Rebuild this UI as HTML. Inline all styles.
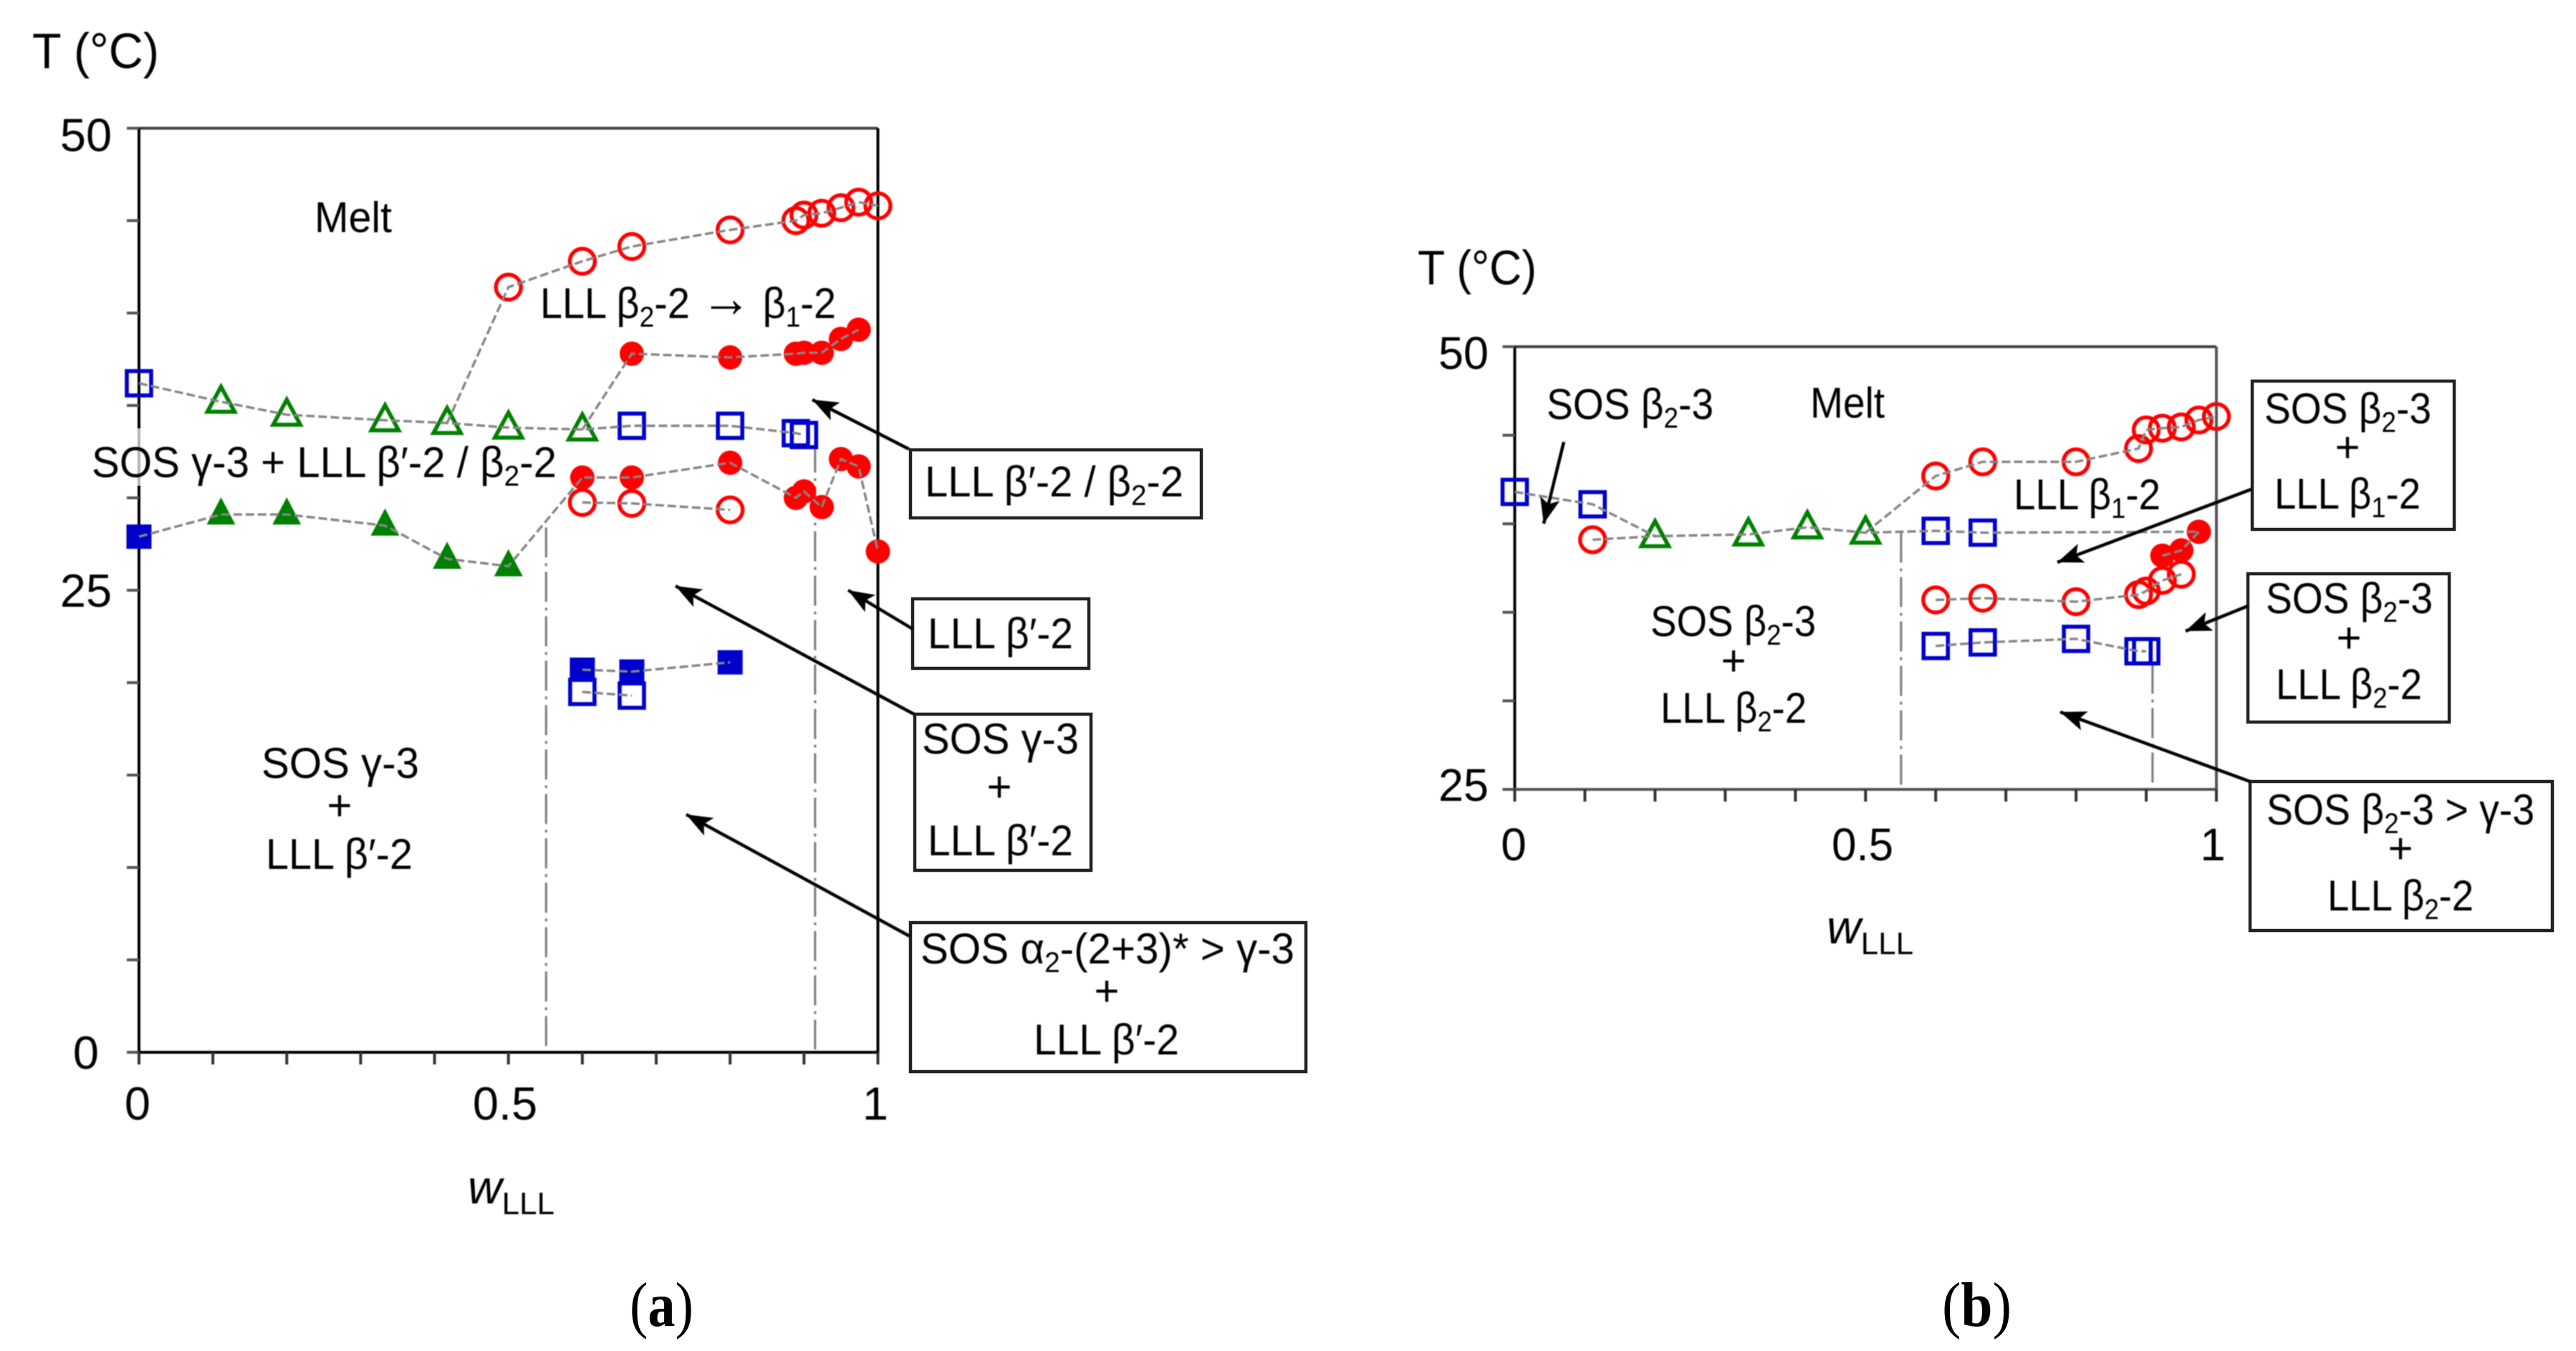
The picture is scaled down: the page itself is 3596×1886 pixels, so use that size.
<!DOCTYPE html>
<html lang="en">
<head>
<meta charset="utf-8">
<title>Phase diagrams of SOS/LLL mixtures</title>
<style>
  html, body { margin: 0; padding: 0; background: #fff; }
  body { width: 3596px; height: 1886px; overflow: hidden; }
  svg { position: absolute; left: 0; top: 0; display: block; }
  text { font-family: "Liberation Sans", "DejaVu Sans", sans-serif; fill: #000; }
  .serif { font-family: "Liberation Serif", serif; }
  svg > text:not(.serif), svg > line, svg > g { filter: blur(0.7px); }
</style>
</head>
<body>
<svg id="figure" xmlns="http://www.w3.org/2000/svg" width="3596" height="1886" viewBox="0 0 3596 1886">
  <rect width="3596" height="1886" fill="#fff"/>
  <defs>
    <marker id="arrowhead" markerUnits="userSpaceOnUse" markerWidth="44" markerHeight="36" refX="36" refY="14" orient="auto">
      <path d="M0 0 L36 14 L0 28 L8 14 Z" fill="#000"/>
    </marker>
  </defs>
  <g id="panel-a"></g>
  <g id="panel-b"></g>

  <!-- fade of the left axis behind the label, as in the source -->
  <rect x="186" y="598" width="18" height="80" fill="#fff" fill-opacity="0.7"/>

  <!-- Panel (a) text -->
  <text x="45" y="95" font-size="70" textLength="177" lengthAdjust="spacingAndGlyphs">T (°C)</text>
  <text x="120" y="211" font-size="65" text-anchor="middle">50</text>
  <text x="120" y="847" font-size="65" text-anchor="middle">25</text>
  <text x="120" y="1492" font-size="65" text-anchor="middle">0</text>
  <text x="192" y="1563" font-size="65" text-anchor="middle">0</text>
  <text x="705" y="1563" font-size="65" text-anchor="middle">0.5</text>
  <text x="1222" y="1563" font-size="65" text-anchor="middle">1</text>
  <text x="653" y="1680" font-size="66" font-style="italic">w<tspan font-size="44" font-style="normal" dy="15">LLL</tspan></text>
  <text class="serif" x="879" y="1851" font-size="88" textLength="89" lengthAdjust="spacingAndGlyphs">(<tspan font-weight="bold">a</tspan>)</text>

  <text x="439" y="324" font-size="60" textLength="108" lengthAdjust="spacingAndGlyphs">Melt</text>
  <text x="754" y="444" font-size="60" textLength="413" lengthAdjust="spacingAndGlyphs">LLL β<tspan font-size="40" dy="12">2</tspan><tspan dy="-12">-2 </tspan><tspan font-size="76" dy="-2">→</tspan><tspan dy="2"> β</tspan><tspan font-size="40" dy="12">1</tspan><tspan dy="-12">-2</tspan></text>
  <text x="128" y="666" font-size="60" textLength="649" lengthAdjust="spacingAndGlyphs">SOS γ-3 + LLL β′-2 / β<tspan font-size="40" dy="12">2</tspan><tspan dy="-12">-2</tspan></text>
  <text x="365" y="1086" font-size="60" textLength="220" lengthAdjust="spacingAndGlyphs">SOS γ-3</text>
  <text x="474" y="1145" font-size="60" text-anchor="middle">+</text>
  <text x="371" y="1213" font-size="60" textLength="205" lengthAdjust="spacingAndGlyphs">LLL β′-2</text>

  <!-- Panel (a) callouts -->
  <rect x="1271" y="628" width="406" height="95" fill="#fff" stroke="#222" stroke-width="4.5"/>
  <text x="1291" y="693" font-size="60" textLength="361" lengthAdjust="spacingAndGlyphs">LLL β′-2 / β<tspan font-size="40" dy="12">2</tspan><tspan dy="-12">-2</tspan></text>

  <rect x="1274" y="836" width="246" height="97" fill="#fff" stroke="#222" stroke-width="4.5"/>
  <text x="1295" y="905" font-size="60" textLength="203" lengthAdjust="spacingAndGlyphs">LLL β′-2</text>

  <rect x="1277" y="997" width="246" height="218" fill="#fff" stroke="#222" stroke-width="4.5"/>
  <text x="1287" y="1052" font-size="60" textLength="219" lengthAdjust="spacingAndGlyphs">SOS γ-3</text>
  <text x="1395" y="1119" font-size="60" text-anchor="middle">+</text>
  <text x="1295" y="1194" font-size="60" textLength="203" lengthAdjust="spacingAndGlyphs">LLL β′-2</text>

  <rect x="1271" y="1288" width="552" height="208" fill="#fff" stroke="#222" stroke-width="4.5"/>
  <text x="1285" y="1345" font-size="60" textLength="522" lengthAdjust="spacingAndGlyphs">SOS α<tspan font-size="40" dy="12">2</tspan><tspan dy="-12">-(2+3)* &gt; γ-3</tspan></text>
  <text x="1545" y="1404" font-size="60" text-anchor="middle">+</text>
  <text x="1443" y="1472" font-size="60" textLength="203" lengthAdjust="spacingAndGlyphs">LLL β′-2</text>

  <line x1="1269" y1="627" x2="1134" y2="558" stroke="#000" stroke-width="4.5" marker-end="url(#arrowhead)"/>
  <line x1="1274" y1="878" x2="1184" y2="824" stroke="#000" stroke-width="4.5" marker-end="url(#arrowhead)"/>
  <line x1="1276" y1="997" x2="943" y2="818" stroke="#000" stroke-width="4.5" marker-end="url(#arrowhead)"/>
  <line x1="1270" y1="1307" x2="958" y2="1137" stroke="#000" stroke-width="4.5" marker-end="url(#arrowhead)"/>

  <!-- Panel (b) text -->
  <text x="1979" y="397" font-size="68" textLength="166" lengthAdjust="spacingAndGlyphs">T (°C)</text>
  <text x="2043" y="515" font-size="64" text-anchor="middle" textLength="70" lengthAdjust="spacingAndGlyphs">50</text>
  <text x="2043" y="1118" font-size="64" text-anchor="middle" textLength="70" lengthAdjust="spacingAndGlyphs">25</text>
  <text x="2113" y="1201" font-size="64" text-anchor="middle">0</text>
  <text x="2600" y="1201" font-size="64" text-anchor="middle" textLength="86" lengthAdjust="spacingAndGlyphs">0.5</text>
  <text x="3089" y="1201" font-size="64" text-anchor="middle">1</text>
  <text x="2550" y="1317" font-size="66" font-style="italic">w<tspan font-size="44" font-style="normal" dy="15">LLL</tspan></text>
  <text class="serif" x="2711" y="1851" font-size="88" textLength="97" lengthAdjust="spacingAndGlyphs">(<tspan font-weight="bold">b</tspan>)</text>

  <text x="2159" y="585" font-size="60" textLength="233" lengthAdjust="spacingAndGlyphs">SOS β<tspan font-size="40" dy="12">2</tspan><tspan dy="-12">-3</tspan></text>
  <text x="2527" y="583" font-size="60" textLength="104" lengthAdjust="spacingAndGlyphs">Melt</text>
  <text x="2304" y="888" font-size="60" textLength="231" lengthAdjust="spacingAndGlyphs">SOS β<tspan font-size="40" dy="12">2</tspan><tspan dy="-12">-3</tspan></text>
  <text x="2420" y="943" font-size="60" text-anchor="middle">+</text>
  <text x="2318" y="1009" font-size="60" textLength="204" lengthAdjust="spacingAndGlyphs">LLL β<tspan font-size="40" dy="12">2</tspan><tspan dy="-12">-2</tspan></text>
  <text x="2811" y="711" font-size="60" textLength="205" lengthAdjust="spacingAndGlyphs">LLL β<tspan font-size="40" dy="12">1</tspan><tspan dy="-12">-2</tspan></text>

  <!-- Panel (b) callouts -->
  <rect x="3144" y="532" width="282" height="207" fill="#fff" stroke="#222" stroke-width="4.5"/>
  <text x="3161" y="591" font-size="60" textLength="233" lengthAdjust="spacingAndGlyphs">SOS β<tspan font-size="40" dy="12">2</tspan><tspan dy="-12">-3</tspan></text>
  <text x="3277" y="645" font-size="60" text-anchor="middle">+</text>
  <text x="3175" y="710" font-size="60" textLength="204" lengthAdjust="spacingAndGlyphs">LLL β<tspan font-size="40" dy="12">1</tspan><tspan dy="-12">-2</tspan></text>

  <rect x="3138" y="801" width="281" height="207" fill="#fff" stroke="#222" stroke-width="4.5"/>
  <text x="3163" y="856" font-size="60" textLength="233" lengthAdjust="spacingAndGlyphs">SOS β<tspan font-size="40" dy="12">2</tspan><tspan dy="-12">-3</tspan></text>
  <text x="3279" y="911" font-size="60" text-anchor="middle">+</text>
  <text x="3177" y="976" font-size="60" textLength="204" lengthAdjust="spacingAndGlyphs">LLL β<tspan font-size="40" dy="12">2</tspan><tspan dy="-12">-2</tspan></text>

  <rect x="3141" y="1091" width="422" height="208" fill="#fff" stroke="#222" stroke-width="4.5"/>
  <text x="3164" y="1151" font-size="60" textLength="374" lengthAdjust="spacingAndGlyphs">SOS β<tspan font-size="40" dy="12">2</tspan><tspan dy="-12">-3 &gt; γ-3</tspan></text>
  <text x="3351" y="1205" font-size="60" text-anchor="middle">+</text>
  <text x="3249" y="1271" font-size="60" textLength="204" lengthAdjust="spacingAndGlyphs">LLL β<tspan font-size="40" dy="12">2</tspan><tspan dy="-12">-2</tspan></text>

  <line x1="2183" y1="617" x2="2155" y2="731" stroke="#000" stroke-width="4.5" marker-end="url(#arrowhead)"/>
  <line x1="3143" y1="683" x2="2872" y2="785" stroke="#000" stroke-width="4.5" marker-end="url(#arrowhead)"/>
  <line x1="3138" y1="846" x2="3051" y2="881" stroke="#000" stroke-width="4.5" marker-end="url(#arrowhead)"/>
  <line x1="3141" y1="1091" x2="2876" y2="994" stroke="#000" stroke-width="4.5" marker-end="url(#arrowhead)"/>
</svg>

<script>
// ---- Panel (a) data: weight fraction w and temperature T (°C) ----
const aTopSquareW = [0];
const aTopSquareT = [36.2];
const aGreenOpenW = [0.111, 0.2, 0.333, 0.417, 0.5, 0.6];
const aGreenOpenT = [35.2, 34.5, 34.2, 34.05, 33.8, 33.7];
const aMidSquareW = [0.667, 0.8, 0.889, 0.9];
const aMidSquareT = [33.9, 33.9, 33.5, 33.4];
const aMeltCircleW = [0.5, 0.6, 0.667, 0.8, 0.889, 0.9, 0.924, 0.95, 0.974, 1];
const aMeltCircleT = [41.4, 42.8, 43.6, 44.5, 45.0, 45.3, 45.4, 45.7, 46.0, 45.8];
const aUpperDiscW = [0.667, 0.8, 0.889, 0.9, 0.924, 0.95, 0.974];
const aUpperDiscT = [37.8, 37.6, 37.8, 37.85, 37.85, 38.6, 39.1];
const aLowBlockW = [0];
const aLowBlockT = [27.9];
const aGreenFilledW = [0.111, 0.2, 0.333, 0.417, 0.5];
const aGreenFilledT = [29.1, 29.1, 28.5, 26.7, 26.3];
const aLowerDiscW = [0.6, 0.667, 0.8, 0.889, 0.9, 0.924, 0.95, 0.974, 1];
const aLowerDiscT = [31.1, 31.1, 31.9, 30.0, 30.35, 29.5, 32.1, 31.7, 27.1];
const aLowerCircleW = [0.6, 0.667, 0.8];
const aLowerCircleT = [29.75, 29.7, 29.35];
const aBlueFilledW = [0.6, 0.667, 0.8];
const aBlueFilledT = [20.7, 20.6, 21.1];
const aBlueOpenW = [0.6, 0.667];
const aBlueOpenT = [19.5, 19.3];
const aBoundaryW = [0.551, 0.915];
const aBoundaryT = [28.4, 33.0];

// ---- Panel (b) data ----
const bTopSquareW = [0, 0.111];
const bTopSquareT = [41.8, 41.1];
const bFirstCircleW = [0.111];
const bFirstCircleT = [39.1];
const bGreenOpenW = [0.2, 0.333, 0.417, 0.5];
const bGreenOpenT = [39.3, 39.4, 39.8, 39.5];
const bMidSquareW = [0.6, 0.667];
const bMidSquareT = [39.6, 39.5];
const bMeltCircleW = [0.6, 0.667, 0.8, 0.889, 0.9, 0.923, 0.95, 0.975, 1];
const bMeltCircleT = [42.7, 43.5, 43.5, 44.25, 45.3, 45.4, 45.47, 45.86, 46.06];
const bDiscW = [0.923, 0.95, 0.975];
const bDiscT = [38.2, 38.5, 39.55];
const bLowerCircleW = [0.6, 0.667, 0.8, 0.889, 0.9, 0.923, 0.95];
const bLowerCircleT = [35.7, 35.8, 35.6, 36.0, 36.2, 36.8, 37.15];
const bLowerSquareW = [0.6, 0.667, 0.8, 0.889, 0.9];
const bLowerSquareT = [33.1, 33.3, 33.5, 32.8, 32.8];
const bBoundaryW = [0.5506, 0.909];
const bBoundaryT = [39.5, 32.1];

// ---- Ticks ----
const aYTicks = [0, 5, 10, 15, 20, 25, 30, 35, 40, 45, 50];
const bYTicks = [25, 30, 35, 40, 45, 50];
const xTicks = [0, 0.1, 0.2, 0.3, 0.4, 0.5, 0.6, 0.7, 0.8, 0.9, 1];

const NS = 'http://www.w3.org/2000/svg';
const RED = '#ff0000', BLUE = '#0000cc', GREEN = '#008000', DASH = '#858585';

function axes(left, right, top, bottom, tMin, tMax) {
  return {
    left, right, top, bottom, tMin,
    x: w => left + (right - left) * w,
    y: t => bottom - (bottom - top) * (t - tMin) / (tMax - tMin)
  };
}
const axisA = axes(194, 1225.5, 179, 1469, 0, 50);
const axisB = axes(2114.5, 3094, 484, 1102, 25, 50);

function node(tag, parent, props) {
  const el = document.createElementNS(NS, tag);
  for (const k in props) el.setAttribute(k, props[k]);
  parent.appendChild(el);
  return el;
}

function drawFrame(parent, ax, yTicks, prefix) {
  const sides = [
    ['top', ax.left - 17, ax.top, ax.right, ax.top, '#444'],
    ['left', ax.left, ax.top, ax.left, ax.bottom + 17, '#000'],
    ['right', ax.right, ax.top, ax.right, ax.bottom + 17, prefix === 'a' ? '#000' : '#555'],
    ['bottom', ax.left - 17, ax.bottom, ax.right, ax.bottom, prefix === 'a' ? '#000' : '#555']
  ];
  sides.forEach(s => {
    const el = node('line', parent, { x1: s[1], y1: s[2], x2: s[3], y2: s[4], stroke: s[5], 'stroke-width': 4 });
    
    
  });
  yTicks.forEach(t => {
    const el = node('line', parent, { x1: ax.left - 17, y1: ax.y(t), x2: ax.left, y2: ax.y(t), stroke: '#555', 'stroke-width': 4 });
    
    
  });
  xTicks.forEach(w => {
    const el = node('line', parent, { x1: ax.x(w), y1: ax.bottom, x2: ax.x(w), y2: ax.bottom + 17, stroke: '#333', 'stroke-width': 4 });
    
    
  });
}

function drawBoundaries(parent, ax, ws, ts, prefix) {
  ws.forEach((w, i) => {
    const el = node('line', parent, {
      x1: ax.x(w), y1: ax.y(ts[i]), x2: ax.x(w), y2: ax.bottom - 4,
      stroke: '#808080', 'stroke-width': 3.2, 'stroke-dasharray': '42 8 4 8'
    });
    
    
  });
}

function drawMarkers(parent, ax, ws, ts, shape, color, name) {
  ws.forEach((w, i) => {
    const cx = ax.x(w), cy = ax.y(ts[i]);
    let el;
    if (shape === 'circle') {
      el = node('circle', parent, { cx, cy, r: 17.5, fill: 'none', stroke: color, 'stroke-width': 5.4 });
    } else if (shape === 'disc') {
      el = node('circle', parent, { cx, cy, r: 17, fill: color });
    } else if (shape === 'square') {
      el = node('rect', parent, { x: cx - 17, y: cy - 17, width: 34, height: 34, fill: 'none', stroke: color, 'stroke-width': 5.6 });
    } else if (shape === 'block') {
      el = node('rect', parent, { x: cx - 17.5, y: cy - 17, width: 35, height: 34, fill: color });
    } else if (shape === 'triangle') {
      el = node('polygon', parent, { points: `${cx},${cy - 21} ${cx + 19},${cy + 14} ${cx - 19},${cy + 14}`, fill: 'none', stroke: color, 'stroke-width': 5.6 });
    } else {
      el = node('polygon', parent, { points: `${cx},${cy - 24} ${cx + 20},${cy + 14} ${cx - 20},${cy + 14}`, fill: color });
    }
    
    
  });
}

function drawLine(parent, ax, ws, ts, name) {
  const pts = ws.map((w, i) => ax.x(w) + ',' + ax.y(ts[i])).join(' ');
  const el = node('polyline', parent, { points: pts, fill: 'none', stroke: DASH, 'stroke-width': 3.4, 'stroke-dasharray': '12 5' });
  
  
}

// ---- Panel (a) ----
const panelA = document.getElementById('panel-a');
drawFrame(panelA, axisA, aYTicks, 'a');
drawBoundaries(panelA, axisA, aBoundaryW, aBoundaryT, 'a');
drawMarkers(panelA, axisA, aMeltCircleW, aMeltCircleT, 'circle', RED, 'a-melting-circle');
drawMarkers(panelA, axisA, aLowerCircleW, aLowerCircleT, 'circle', RED, 'a-lower-circle');
drawMarkers(panelA, axisA, aUpperDiscW, aUpperDiscT, 'disc', RED, 'a-upper-filled-circle');
drawMarkers(panelA, axisA, aLowerDiscW, aLowerDiscT, 'disc', RED, 'a-lower-filled-circle');
drawMarkers(panelA, axisA, aTopSquareW, aTopSquareT, 'square', BLUE, 'a-top-open-square');
drawMarkers(panelA, axisA, aMidSquareW, aMidSquareT, 'square', BLUE, 'a-middle-open-square');
drawMarkers(panelA, axisA, aBlueFilledW, aBlueFilledT, 'block', BLUE, 'a-low-filled-square');
drawMarkers(panelA, axisA, aBlueOpenW, aBlueOpenT, 'square', BLUE, 'a-low-open-square');
drawMarkers(panelA, axisA, aLowBlockW, aLowBlockT, 'block', BLUE, 'a-axis-filled-square');
drawMarkers(panelA, axisA, aGreenOpenW, aGreenOpenT, 'triangle', GREEN, 'a-open-triangle');
drawMarkers(panelA, axisA, aGreenFilledW, aGreenFilledT, 'wedge', GREEN, 'a-filled-triangle');

drawLine(panelA, axisA, aTopSquareW.concat(aGreenOpenW, aMidSquareW), aTopSquareT.concat(aGreenOpenT, aMidSquareT), 'a-upper-trace');
drawLine(panelA, axisA, [aGreenOpenW[3]].concat(aMeltCircleW), [aGreenOpenT[3]].concat(aMeltCircleT), 'a-melting-trace');
drawLine(panelA, axisA, [aGreenOpenW[5]].concat(aUpperDiscW), [aGreenOpenT[5]].concat(aUpperDiscT), 'a-upper-filled-trace');
drawLine(panelA, axisA, aLowBlockW.concat(aGreenFilledW, aLowerDiscW), aLowBlockT.concat(aGreenFilledT, aLowerDiscT), 'a-lower-trace');
drawLine(panelA, axisA, aLowerCircleW, aLowerCircleT, 'a-lower-circle-trace');
drawLine(panelA, axisA, aBlueFilledW, aBlueFilledT, 'a-low-filled-trace');
drawLine(panelA, axisA, aBlueOpenW, aBlueOpenT, 'a-low-open-trace');

// ---- Panel (b) ----
const panelB = document.getElementById('panel-b');
drawFrame(panelB, axisB, bYTicks, 'b');
drawBoundaries(panelB, axisB, bBoundaryW, bBoundaryT, 'b');
drawMarkers(panelB, axisB, bMeltCircleW, bMeltCircleT, 'circle', RED, 'b-melting-circle');
drawMarkers(panelB, axisB, bFirstCircleW, bFirstCircleT, 'circle', RED, 'b-first-circle');
drawMarkers(panelB, axisB, bLowerCircleW, bLowerCircleT, 'circle', RED, 'b-lower-circle');
drawMarkers(panelB, axisB, bDiscW, bDiscT, 'disc', RED, 'b-filled-circle');
drawMarkers(panelB, axisB, bTopSquareW, bTopSquareT, 'square', BLUE, 'b-top-open-square');
drawMarkers(panelB, axisB, bMidSquareW, bMidSquareT, 'square', BLUE, 'b-middle-open-square');
drawMarkers(panelB, axisB, bLowerSquareW, bLowerSquareT, 'square', BLUE, 'b-lower-open-square');
drawMarkers(panelB, axisB, bGreenOpenW, bGreenOpenT, 'triangle', GREEN, 'b-open-triangle');

const bLastDisc = bDiscW.length - 1;
drawLine(panelB, axisB,
  bTopSquareW.concat(bGreenOpenW, bMidSquareW, [bDiscW[bLastDisc]]),
  bTopSquareT.concat(bGreenOpenT, bMidSquareT, [bDiscT[bLastDisc]]), 'b-upper-trace');
drawLine(panelB, axisB, bFirstCircleW.concat([bGreenOpenW[0]]), bFirstCircleT.concat([bGreenOpenT[0]]), 'b-first-circle-trace');
drawLine(panelB, axisB, [bGreenOpenW[3]].concat(bMeltCircleW), [bGreenOpenT[3]].concat(bMeltCircleT), 'b-melting-trace');
drawLine(panelB, axisB, bDiscW, bDiscT, 'b-filled-trace');
drawLine(panelB, axisB, bLowerCircleW, bLowerCircleT, 'b-lower-circle-trace');
drawLine(panelB, axisB, bLowerSquareW, bLowerSquareT, 'b-lower-square-trace');
</script>
</body>
</html>
